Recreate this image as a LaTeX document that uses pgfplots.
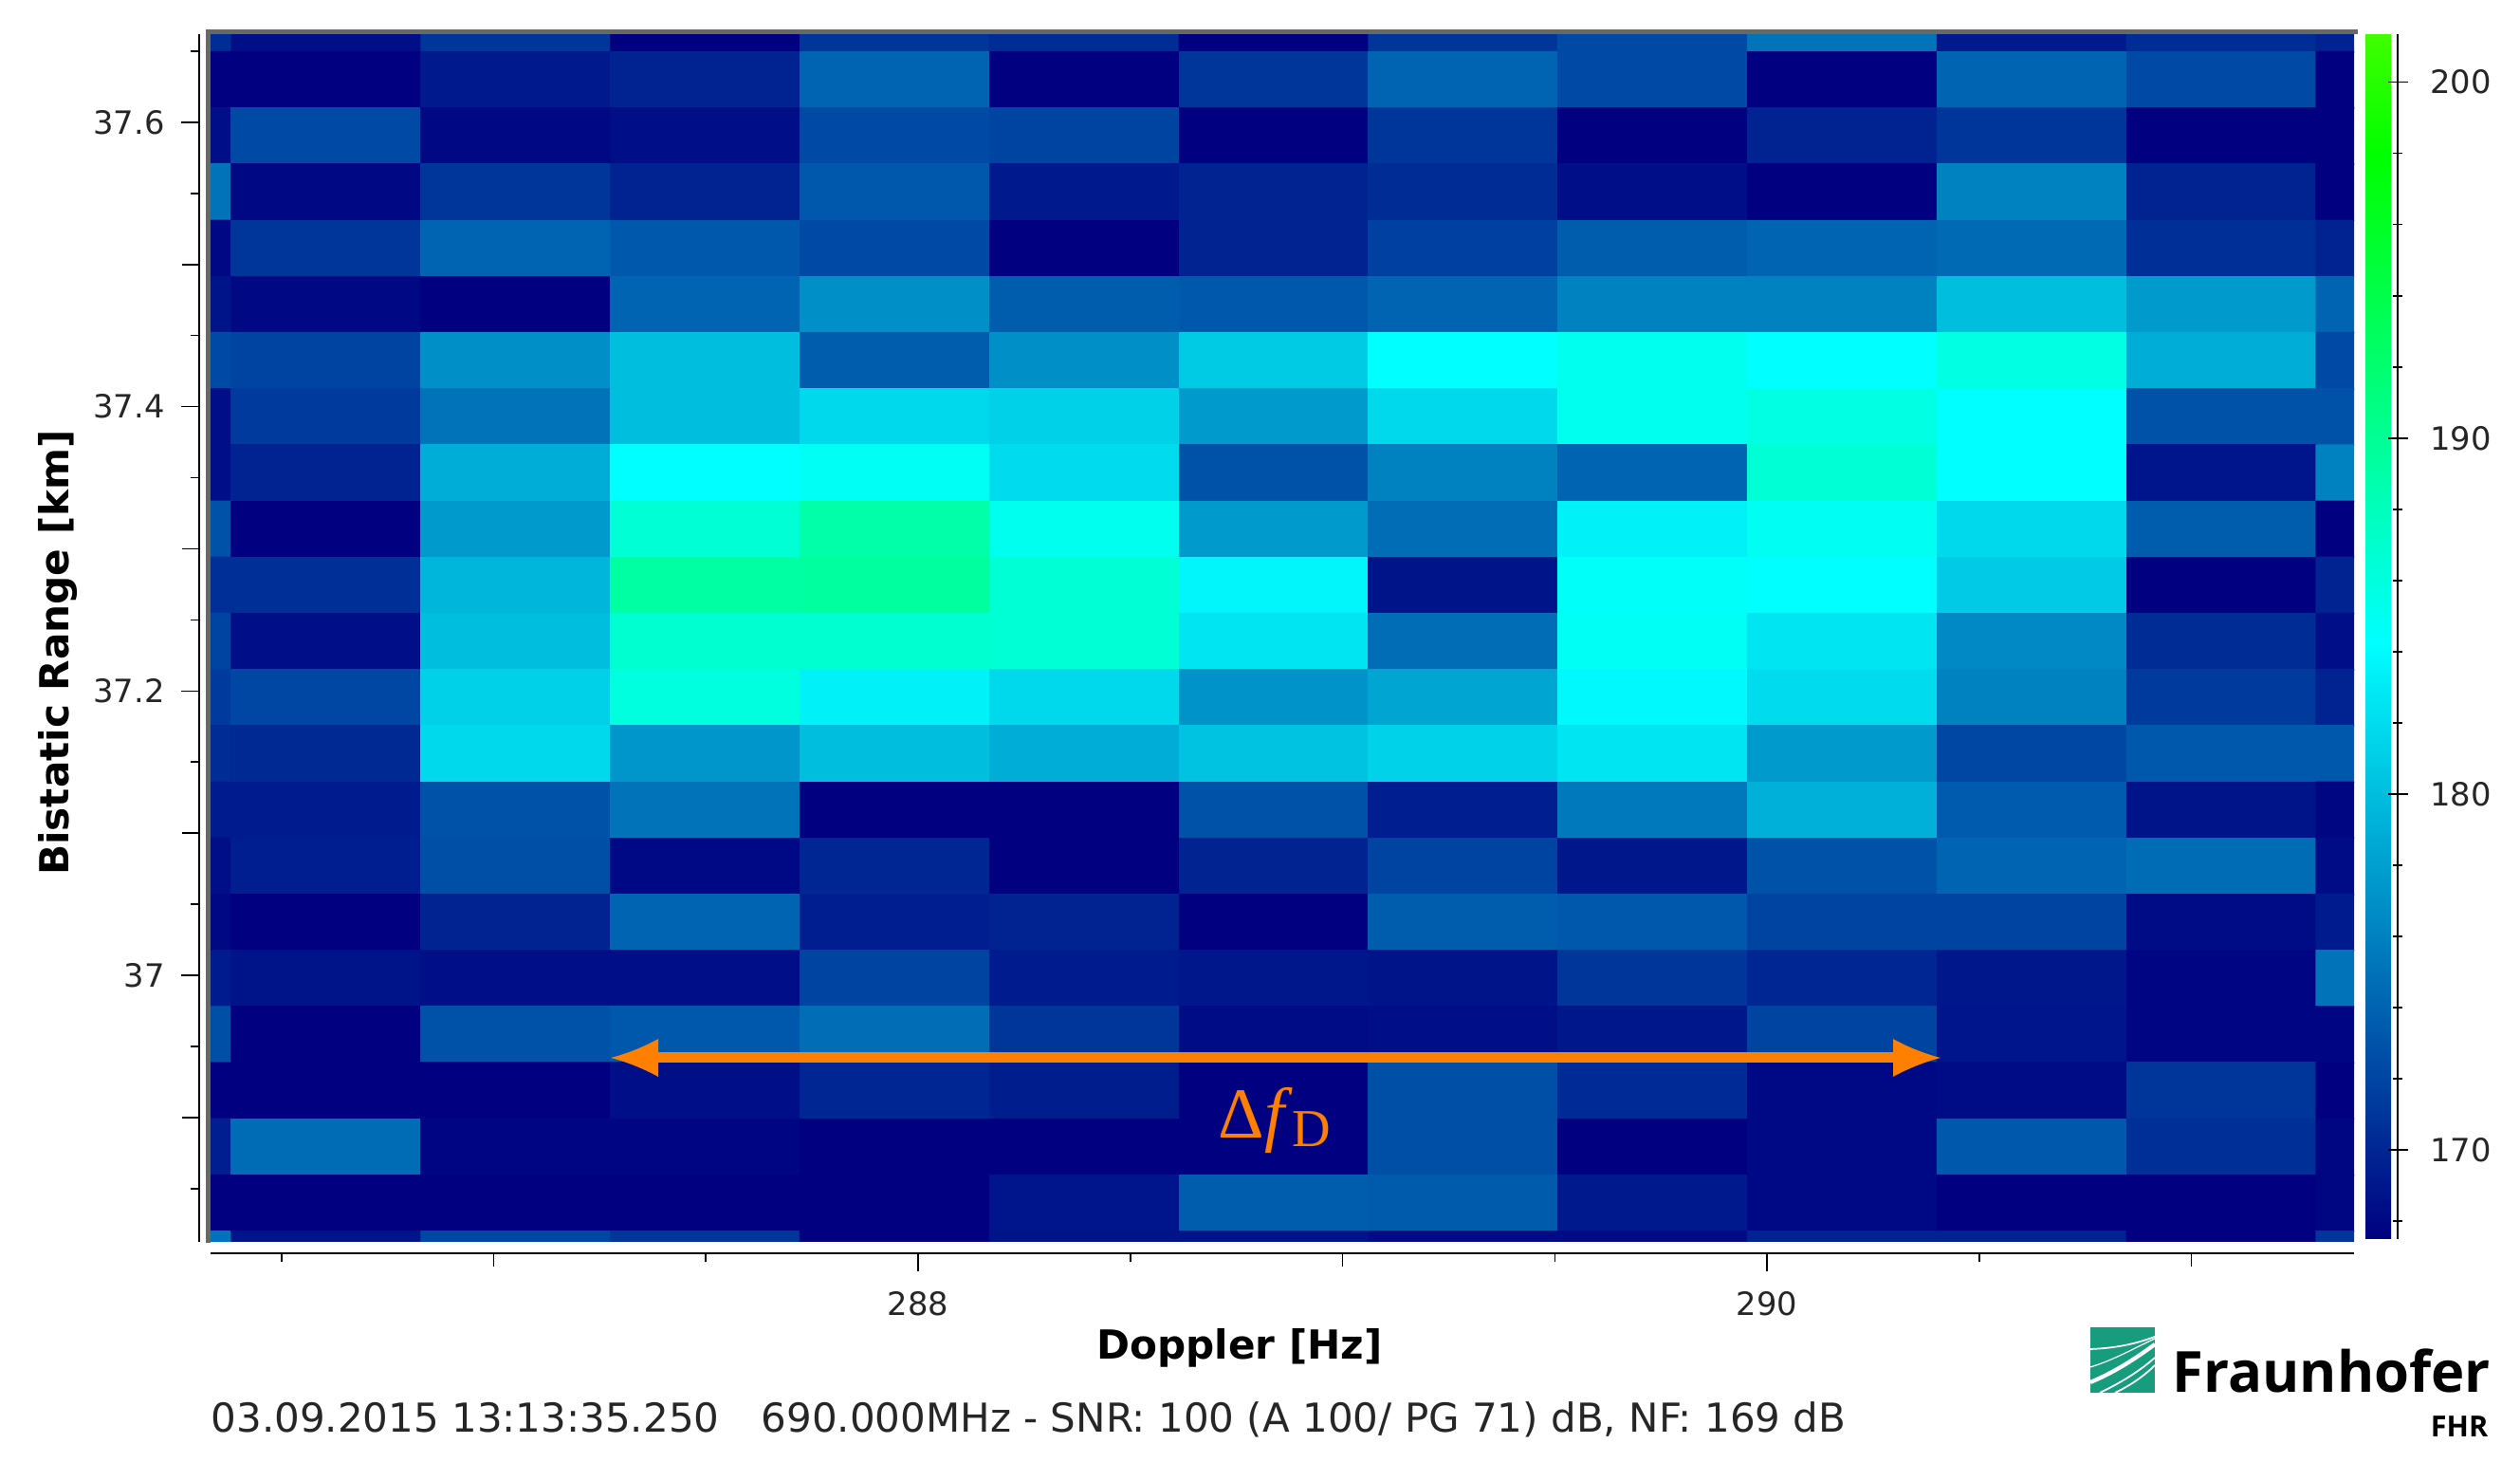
\documentclass[border=0pt]{standalone}
\usepackage{fontspec}
\setmainfont{DejaVu Sans}
\newfontfamily\fhrfont{Open Sans}
\newfontfamily\deltafont{Liberation Serif}
\usepackage{pgfplots}
\pgfplotsset{compat=1.18}

\definecolor{framegray}{RGB}{105,105,100}
\definecolor{arroworange}{RGB}{255,128,0}
\definecolor{fhrgreen}{RGB}{23,156,125}

\pgfplotsset{
  colormap={fhr}{rgb255(0cm)=(0,0,128); rgb255(16.8cm)=(0,255,255); rgb255(30.5cm)=(0,255,0); rgb255(33.85cm)=(64,255,0)},
}

\begin{document}
\begin{tikzpicture}
\path[use as bounding box] (0,0) rectangle (26.57,15.41);
\begin{axis}[
  at={(2.22cm,2.32cm)}, anchor=south west,
  scale only axis, width=22.6cm, height=12.73cm,
  xmin=286.333, xmax=291.383, ymin=36.8125, ymax=37.662,
  axis lines=left, axis line style={-, line width=0.7pt, black},
  axis x line shift=1.2mm, axis y line shift=1.2mm,
  tick align=outside, axis on top,
  tick style={black, line width=0.45pt},
  /pgf/number format/assume math mode=true,
  tick label style={font=\fontsize{9.6pt}{11pt}\selectfont, text=black!85},
  xtick={288,290}, ytick={37,37.2,37.4,37.6},
  minor xtick={286.5,287.5,288.5,289.5,290.5},
  minor ytick={36.85,36.95,37.05,37.15,37.25,37.35,37.45,37.55,37.65},
  extra x ticks={287,289,291}, extra x tick labels={},
  extra x tick style={major tick length=1.4mm},
  extra y ticks={36.9,37.1,37.3,37.5}, extra y tick labels={},
  extra y tick style={major tick length=1.8mm},
  major tick length=1.9mm, minor tick length=0.95mm,
  y tick label style={xshift=-0.5mm},
  x tick label style={yshift=-0.9mm},
  xlabel={\textbf{Doppler [Hz]}}, ylabel={\textbf{Bistatic Range [km]}},
  label style={font=\fontsize{12pt}{14pt}\selectfont},
  xlabel style={at={(axis description cs:0.4801,-0.0878)},anchor=center},
  ylabel style={at={(axis description cs:-0.0711,0.4878)},anchor=center},
  colormap name=fhr, point meta min=167.5, point meta max=201.35,
  colorbar,
  colorbar style={
    at={(1.00531,0.00236)}, anchor=south west,
    width=0.27cm, height=12.70cm,
    axis y line=right, axis x line=none,
    axis y line shift=0.7mm,
    y axis line style={-, line width=0.7pt},
    ytick={170,180,190,200},
    minor ytick={168,172,174,176,178,182,184,186,188,192,194,196,198},
    major tick length=2.1mm, minor tick length=0.95mm,
    /pgf/number format/assume math mode=true,
    y tick label style={xshift=1.15mm, font=\fontsize{9.6pt}{11pt}\selectfont, text=black!85},
    ymin=167.5, ymax=201.35,
  },
]
\addplot[matrix plot*, mesh/cols=13, point meta=explicit] coordinates {
(286.159,37.669)[170.4] (286.606,37.669)[168.5] (287.052,37.669)[171] (287.499,37.669)[167.5] (287.945,37.669)[171] (288.392,37.669)[170.4] (288.838,37.669)[167.5] (289.285,37.669)[171] (289.731,37.669)[172.4] (290.178,37.669)[175.1] (290.624,37.669)[169.2] (291.071,37.669)[170.4] (291.517,37.669)[169.8]
(286.159,37.630)[167.5] (286.606,37.630)[167.5] (287.052,37.630)[169.2] (287.499,37.630)[169.8] (287.945,37.630)[174.1] (288.392,37.630)[167.5] (288.838,37.630)[171] (289.285,37.630)[174.1] (289.731,37.630)[172.4] (290.178,37.630)[167.5] (290.624,37.630)[174.1] (291.071,37.630)[172.4] (291.517,37.630)[167.5]
(286.159,37.590)[168.5] (286.606,37.590)[172.4] (287.052,37.590)[168] (287.499,37.590)[168.5] (287.945,37.590)[172.4] (288.392,37.590)[172] (288.838,37.590)[167.5] (289.285,37.590)[171] (289.731,37.590)[167.5] (290.178,37.590)[169.8] (290.624,37.590)[171] (291.071,37.590)[167.5] (291.517,37.590)[167.5]
(286.159,37.551)[175.1] (286.606,37.551)[168] (287.052,37.551)[171] (287.499,37.551)[169.8] (287.945,37.551)[173.3] (288.392,37.551)[169.2] (288.838,37.551)[169.8] (289.285,37.551)[170.4] (289.731,37.551)[168.5] (290.178,37.551)[167.5] (290.624,37.551)[176] (291.071,37.551)[169.8] (291.517,37.551)[167.5]
(286.159,37.511)[168] (286.606,37.511)[171] (287.052,37.511)[174.1] (287.499,37.511)[173.3] (287.945,37.511)[172.4] (288.392,37.511)[167.5] (288.838,37.511)[169.8] (289.285,37.511)[171.7] (289.731,37.511)[173.6] (290.178,37.511)[174.1] (290.624,37.511)[174.5] (291.071,37.511)[170.6] (291.517,37.511)[169.8]
(286.159,37.472)[168.8] (286.606,37.472)[168] (287.052,37.472)[167.5] (287.499,37.472)[174.1] (287.945,37.472)[177] (288.392,37.472)[173.6] (288.838,37.472)[173.3] (289.285,37.472)[174.1] (289.731,37.472)[176] (290.178,37.472)[176] (290.624,37.472)[180] (291.071,37.472)[177.7] (291.517,37.472)[174.1]
(286.159,37.432)[172.4] (286.606,37.432)[172] (287.052,37.432)[176.9] (287.499,37.432)[180] (287.945,37.432)[173.6] (288.392,37.432)[176.9] (288.838,37.432)[180.9] (289.285,37.432)[184.3] (289.731,37.432)[185.2] (290.178,37.432)[184.3] (290.624,37.432)[185.8] (291.071,37.432)[178.9] (291.517,37.432)[172.4]
(286.159,37.393)[168.5] (286.606,37.393)[171.3] (287.052,37.393)[175.1] (287.499,37.393)[180] (287.945,37.393)[181.8] (288.392,37.393)[181.2] (288.838,37.393)[177.7] (289.285,37.393)[181.7] (289.731,37.393)[185.2] (290.178,37.393)[185.8] (290.624,37.393)[184.3] (291.071,37.393)[172.9] (291.517,37.393)[172.9]
(286.159,37.353)[168.5] (286.606,37.353)[169.8] (287.052,37.353)[178.9] (287.499,37.353)[184.3] (287.945,37.353)[184.9] (288.392,37.353)[182] (288.838,37.353)[172.9] (289.285,37.353)[176] (289.731,37.353)[174.1] (290.178,37.353)[186.6] (290.624,37.353)[184.3] (291.071,37.353)[168.9] (291.517,37.353)[176]
(286.159,37.314)[172.9] (286.606,37.314)[167.5] (287.052,37.314)[177.7] (287.499,37.314)[186.6] (287.945,37.314)[189] (288.392,37.314)[185.2] (288.838,37.314)[177.7] (289.285,37.314)[174.7] (289.731,37.314)[183.4] (290.178,37.314)[185] (290.624,37.314)[181.8] (291.071,37.314)[173.6] (291.517,37.314)[167.5]
(286.159,37.274)[170.6] (286.606,37.274)[170.6] (287.052,37.274)[179.5] (287.499,37.274)[189.3] (287.945,37.274)[189.5] (288.392,37.274)[186.6] (288.838,37.274)[183.7] (289.285,37.274)[168.8] (289.731,37.274)[184.6] (290.178,37.274)[184.3] (290.624,37.274)[180.8] (291.071,37.274)[167.5] (291.517,37.274)[169.8]
(286.159,37.235)[172] (286.606,37.235)[168.5] (287.052,37.235)[180] (287.499,37.235)[186.8] (287.945,37.235)[186.8] (288.392,37.235)[186.6] (288.838,37.235)[182.6] (289.285,37.235)[174.7] (289.731,37.235)[184.9] (290.178,37.235)[182.6] (290.624,37.235)[176.5] (291.071,37.235)[170.4] (291.517,37.235)[168.5]
(286.159,37.195)[171.3] (286.606,37.195)[172.1] (287.052,37.195)[181.2] (287.499,37.195)[186] (287.945,37.195)[183.4] (288.392,37.195)[181.8] (288.838,37.195)[177.2] (289.285,37.195)[178.4] (289.731,37.195)[183.9] (290.178,37.195)[182] (290.624,37.195)[176] (291.071,37.195)[171.3] (291.517,37.195)[169.8]
(286.159,37.156)[170.4] (286.606,37.156)[170.2] (287.052,37.156)[181.8] (287.499,37.156)[177.4] (287.945,37.156)[180] (288.392,37.156)[178.9] (288.838,37.156)[180.3] (289.285,37.156)[181.4] (289.731,37.156)[182.6] (290.178,37.156)[177.7] (290.624,37.156)[172.1] (291.071,37.156)[173.3] (291.517,37.156)[173.3]
(286.159,37.116)[169.3] (286.606,37.116)[169.3] (287.052,37.116)[172.9] (287.499,37.116)[175.1] (287.945,37.116)[167.5] (288.392,37.116)[167.5] (288.838,37.116)[172.9] (289.285,37.116)[169.5] (289.731,37.116)[175.4] (290.178,37.116)[179.1] (290.624,37.116)[173.4] (291.071,37.116)[168.8] (291.517,37.116)[167.8]
(286.159,37.077)[168.5] (286.606,37.077)[169.5] (287.052,37.077)[172.7] (287.499,37.077)[168.1] (287.945,37.077)[170] (288.392,37.077)[167.5] (288.838,37.077)[169.8] (289.285,37.077)[172] (289.731,37.077)[169] (290.178,37.077)[172.9] (290.624,37.077)[174.1] (291.071,37.077)[174.6] (291.517,37.077)[168.3]
(286.159,37.037)[168] (286.606,37.037)[167.5] (287.052,37.037)[169.8] (287.499,37.037)[174.1] (287.945,37.037)[169.5] (288.392,37.037)[169.8] (288.838,37.037)[167.5] (289.285,37.037)[173.6] (289.731,37.037)[173.3] (290.178,37.037)[172] (290.624,37.037)[172] (291.071,37.037)[168.3] (291.517,37.037)[169.3]
(286.159,36.998)[169.3] (286.606,36.998)[168.8] (287.052,36.998)[168.5] (287.499,36.998)[168.5] (287.945,36.998)[172] (288.392,36.998)[169.3] (288.838,36.998)[169] (289.285,36.998)[168.8] (289.731,36.998)[171] (290.178,36.998)[170] (290.624,36.998)[169] (291.071,36.998)[167.9] (291.517,36.998)[175.1]
(286.159,36.958)[172.7] (286.606,36.958)[167.5] (287.052,36.958)[172.9] (287.499,36.958)[173.3] (287.945,36.958)[174.7] (288.392,36.958)[171] (288.838,36.958)[168.3] (289.285,36.958)[168.5] (289.731,36.958)[169] (290.178,36.958)[172] (290.624,36.958)[168.9] (291.071,36.958)[167.9] (291.517,36.958)[167.9]
(286.159,36.919)[167.5] (286.606,36.919)[167.5] (287.052,36.919)[167.5] (287.499,36.919)[168.4] (287.945,36.919)[170] (288.392,36.919)[169.4] (288.838,36.919)[167.5] (289.285,36.919)[172.7] (289.731,36.919)[170.3] (290.178,36.919)[168.1] (290.624,36.919)[168.3] (291.071,36.919)[171] (291.517,36.919)[167.5]
(286.159,36.879)[169.5] (286.606,36.879)[174.6] (287.052,36.879)[167.9] (287.499,36.879)[167.9] (287.945,36.879)[167.5] (288.392,36.879)[167.5] (288.838,36.879)[167.5] (289.285,36.879)[172.7] (289.731,36.879)[167.5] (290.178,36.879)[168.1] (290.624,36.879)[173.3] (291.071,36.879)[170.6] (291.517,36.879)[167.8]
(286.159,36.840)[167.5] (286.606,36.840)[167.5] (287.052,36.840)[167.5] (287.499,36.840)[167.5] (287.945,36.840)[167.5] (288.392,36.840)[168.9] (288.838,36.840)[173.6] (289.285,36.840)[173.5] (289.731,36.840)[169.2] (290.178,36.840)[168.1] (290.624,36.840)[167.5] (291.071,36.840)[167.5] (291.517,36.840)[167.8]
(286.159,36.800)[175.1] (286.606,36.800)[168.9] (287.052,36.800)[172.1] (287.499,36.800)[171] (287.945,36.800)[167.5] (288.392,36.800)[168.8] (288.838,36.800)[168.8] (289.285,36.800)[168.2] (289.731,36.800)[168.2] (290.178,36.800)[169.8] (290.624,36.800)[169.8] (291.071,36.800)[167.5] (291.517,36.800)[171]
};
\end{axis}
% grey frame on the left and top of the image
\draw[framegray, line width=0.5mm, line cap=butt] (2.195,2.31) -- (2.195,15.075) -- (24.86,15.075);
% bandwidth arrow
\fill[arroworange] (6.94,4.205) rectangle (19.96,4.315);
\fill[arroworange] (6.44,4.26) .. controls (6.6,4.30) and (6.8,4.38) .. (6.94,4.46) -- (6.94,4.06) .. controls (6.8,4.14) and (6.6,4.22) .. cycle;
\fill[arroworange] (20.46,4.26) .. controls (20.3,4.30) and (20.1,4.38) .. (19.96,4.46) -- (19.96,4.06) .. controls (20.1,4.14) and (20.3,4.22) .. cycle;
\node[text=arroworange, anchor=center, inner sep=0pt] at (13.44,3.6) {\deltafont\fontsize{21.5pt}{22pt}\selectfont Δ\textit{f}\raisebox{-0.25ex}{\fontsize{16pt}{17pt}\selectfont D}};
% status line
\node[anchor=base west, inner sep=0pt, text=black!85] at (2.22,0.31) {\fontsize{11.95pt}{14pt}\selectfont 03.09.2015 13:13:35.250\hspace{1.05em}690.000MHz - SNR: 100 (A 100/ PG 71) dB, NF: 169 dB};
% logo
\begin{scope}
\clip (22.04,0.73) rectangle (22.72,1.42);
\fill[fhrgreen] (22.04,0.73) rectangle (22.72,1.42);
\draw[white, line width=0.35pt] (22.04,1.00) .. controls (22.3,1.08) and (22.5,1.20) .. (22.72,1.30);
\draw[white, line width=0.5pt] (22.04,1.19) .. controls (22.3,1.20) and (22.5,1.24) .. (22.72,1.32);
\draw[white, line width=1.2pt] (22.04,0.84) .. controls (22.3,0.95) and (22.5,1.08) .. (22.72,1.24);
\draw[white, line width=0.5pt] (22.14,0.73) .. controls (22.35,0.83) and (22.55,0.95) .. (22.72,1.10);
\draw[white, line width=0.5pt] (22.30,0.73) .. controls (22.45,0.80) and (22.6,0.90) .. (22.72,1.02);
\end{scope}
\node[anchor=base west, inner sep=0pt] at (22.90,0.73) {\fhrfont\fontsize{17pt}{19pt}\selectfont\bfseries Fraunhofer};
\node[anchor=base east, inner sep=0pt] at (26.24,0.26) {\fhrfont\fontsize{8.7pt}{10pt}\selectfont\bfseries FHR};
\end{tikzpicture}
\end{document}
